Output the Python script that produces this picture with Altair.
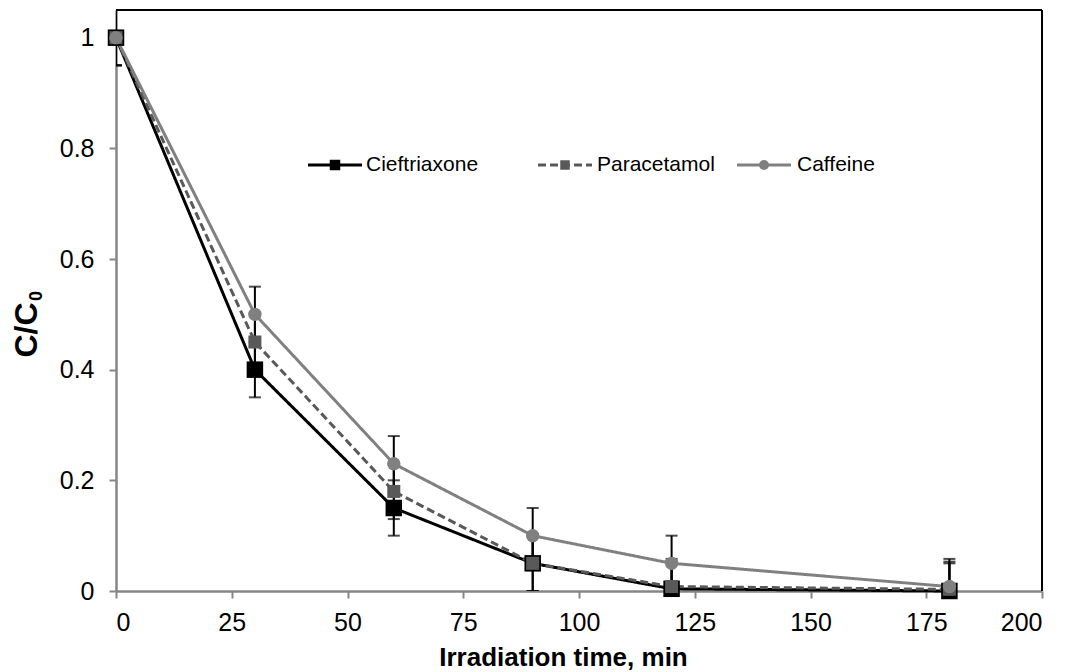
import altair as alt
import pandas as pd

# ---- data ----
time_min = [0, 30, 60, 90, 120, 180]
series_names = ["Cieftriaxone", "Paracetamol", "Caffeine"]
cieftriaxone = [1.0, 0.40, 0.15, 0.05, 0.004, 0.0]
paracetamol = [1.0, 0.45, 0.18, 0.05, 0.008, 0.003]
caffeine = [1.0, 0.50, 0.23, 0.10, 0.05, 0.008]
cieftriaxone_err = [0.05, 0.05, 0.05, 0.05, 0.05, 0.05]
paracetamol_err = [0.05, 0.05, 0.05, 0.05, 0.05, 0.05]
caffeine_err = [0.05, 0.05, 0.05, 0.05, 0.05, 0.05]
x_ticks = [0, 25, 50, 75, 100, 125, 150, 175, 200]
y_ticks = [0, 0.2, 0.4, 0.6, 0.8, 1.0]

FONT = "Liberation Sans"
W, H = 926, 581

styles = {
    "Cieftriaxone": dict(color="#000000", dash=[1, 0], shape="square", size=272, lsize=110),
    "Paracetamol": dict(color="#595959", dash=[8, 4], shape="square", size=169, lsize=90),
    "Caffeine": dict(color="#808080", dash=[1, 0], shape="circle", size=180, lsize=100),
}

rows = []
for name, vals, errs in zip(series_names, [cieftriaxone, paracetamol, caffeine],
                            [cieftriaxone_err, paracetamol_err, caffeine_err]):
    for t, v, e in zip(time_min, vals, errs):
        rows.append({"series": name, "time": t, "value": v, "lo": v - e, "hi": v + e})
df = pd.DataFrame(rows)

xenc = alt.X("time:Q", scale=alt.Scale(domain=[0, 200], nice=False),
             axis=alt.Axis(values=x_ticks, title="Irradiation time, min",
                           titleFontSize=26, titleFontWeight="bold", titleFont=FONT,
                           titleX=447, titleY=74, titleAlign="center",
                           titleBaseline="alphabetic", titleAnchor="middle",
                           labelPadding=12))
yenc = alt.Y("value:Q", scale=alt.Scale(domain=[0, 1.05], nice=False),
             axis=alt.Axis(values=y_ticks, format="~g", title=None, labelPadding=15))

base = alt.Chart(df)
layers = []

# frame (top and right)
frame_src = alt.Chart(pd.DataFrame({"k": [0]}))
layers.append(frame_src.mark_rule(color="#000000", strokeWidth=2).encode(
    x=alt.value(0), x2=alt.value(W), y=alt.value(0)))
layers.append(frame_src.mark_rule(color="#000000", strokeWidth=2).encode(
    x=alt.value(W), y=alt.value(0), y2=alt.value(H)))

# lines
for name in series_names:
    s = styles[name]
    layers.append(base.transform_filter(alt.datum.series == name).mark_line(
        color=s["color"], strokeWidth=3, strokeDash=s["dash"]).encode(x=xenc, y=yenc))

# error bars
for name in series_names:
    b = base.transform_filter(alt.datum.series == name)
    layers.append(b.mark_rule(color="#000000", strokeWidth=2, clip=True).encode(
        x="time:Q", y="lo:Q", y2="hi:Q"))
    layers.append(b.mark_tick(orient="horizontal", color="#000000", size=12,
                              thickness=2, clip=True).encode(x="time:Q", y="hi:Q"))
    layers.append(b.mark_tick(orient="horizontal", color="#000000", size=12,
                              thickness=2, clip=True).encode(x="time:Q", y="lo:Q"))

# markers
for name in series_names:
    s = styles[name]
    layers.append(base.transform_filter(alt.datum.series == name).mark_point(
        shape=s["shape"], filled=True, opacity=1, size=s["size"], color=s["color"],
        strokeWidth=0).encode(x="time:Q", y="value:Q"))

# legend (manual)
legend_pos = {
    "Cieftriaxone": (192, 246, 219, 250),
    "Paracetamol": (422, 476, 449, 481),
    "Caffeine": (621, 675, 648, 681),
}
LY = 155
for name in series_names:
    s = styles[name]
    x0, x1, xm, xt = legend_pos[name]
    src = alt.Chart(pd.DataFrame({"series": [name]}))
    layers.append(src.mark_rule(color=s["color"], strokeWidth=3, strokeDash=s["dash"]).encode(
        x=alt.value(x0), x2=alt.value(x1), y=alt.value(LY)))
    layers.append(src.mark_point(shape=s["shape"], filled=True, opacity=1, size=s["lsize"],
                                 color=s["color"], strokeWidth=0).encode(
        x=alt.value(xm), y=alt.value(LY)))
    layers.append(src.mark_text(align="left", baseline="middle", fontSize=21, font=FONT,
                                color="#000000").encode(
        x=alt.value(xt), y=alt.value(LY), text="series:N"))

# y axis title C/C0 with subscript
ysrc = alt.Chart(pd.DataFrame({"t": ["C/C"], "s": ["0"]}))
layers.append(ysrc.mark_text(angle=270, fontSize=32, fontWeight="bold", font=FONT,
                             align="center", baseline="alphabetic", color="#000000").encode(
    x=alt.value(-79), y=alt.value(320), text="t:N"))
layers.append(ysrc.mark_text(angle=270, fontSize=18, fontWeight="bold", font=FONT,
                             align="center", baseline="alphabetic", color="#000000").encode(
    x=alt.value(-74), y=alt.value(286), text="s:N"))

chart = alt.layer(*layers).properties(
    width=W, height=H,
    autosize=alt.AutoSizeParams(type="none"),
    padding={"left": 116, "top": 10, "right": 28, "bottom": 81},
    background="white",
).configure_view(stroke=None).configure_axis(
    grid=False,
    domainColor="#868686", domainWidth=2.5,
    tickColor="#868686", tickWidth=2, tickSize=7,
    labelFont=FONT, labelFontSize=25, labelColor="#000000",
)

chart.save("out.html", embed_options={"renderer": "svg", "actions": False})
